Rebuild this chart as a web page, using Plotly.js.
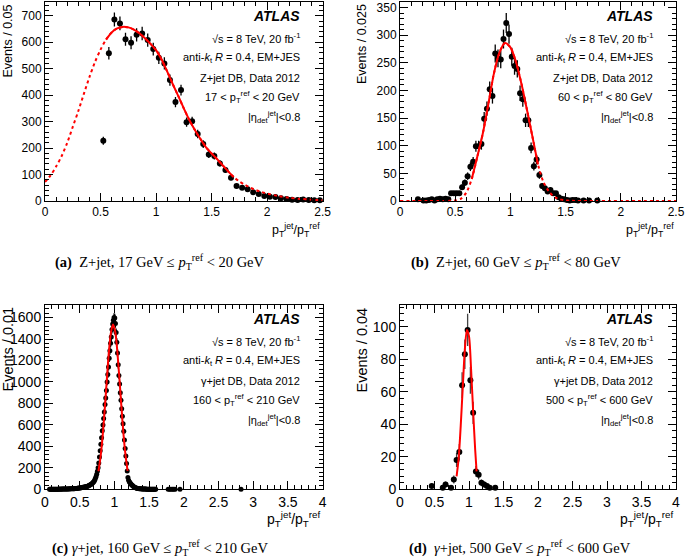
<!DOCTYPE html>
<html>
<head>
<meta charset="utf-8">
<script src="https://cdn.plot.ly/plotly-3.0.1.min.js"></script>
<style>
  body { margin: 0; background: white; }
  #chart { width: 685px; height: 559px; }
</style>
</head>
<body>
<div id="chart"></div>
<script>
// (a) Z+jet, 17-20 GeV, bins of 0.05 starting at 0.525
var aStart = 0.525, aStep = 0.05;
var aEvents = [228, 558, 686, 671, 611, 598, 628, 633, 608, 574, 541, 520, 457, 374, 419,
  298, 301, 253, 215, 176, 170, 142, 117, 88, 57, 50, 44, 33, 26, 19, 16, 15, 10, 8, 5, 4, 6, 4, 3, 3];
var aFitX = [0, 0.05, 0.1, 0.15, 0.2, 0.25, 0.3, 0.35, 0.4, 0.45, 0.5, 0.55, 0.6, 0.65, 0.7, 0.75,
  0.8, 0.85, 0.9, 0.95, 1.0, 1.05, 1.1, 1.15, 1.2, 1.25, 1.3, 1.35, 1.4, 1.45, 1.5, 1.55, 1.6,
  1.65, 1.7, 1.75, 1.8, 1.85, 1.9, 1.95, 2.0, 2.1, 2.2, 2.3, 2.4, 2.5];
var aFitY = [72, 97, 130, 170, 220, 280, 340, 405, 468, 525, 572, 610, 637, 652, 658, 656,
  648, 634, 615, 594, 570, 535, 490, 442, 397, 350, 306, 268, 234, 203, 180, 158, 135,
  112, 90, 74, 61, 50, 41, 34, 28, 19, 12, 8, 5, 3];
var aFitRange = [0.55, 1.7];

// (b) Z+jet, 60-80 GeV, bins of 0.025 starting at 0.1625
var bStart = 0.1625, bStep = 0.025;
var bEvents = [3, null, 1, 1, 2, 3, 1, 3, 4, 3, 4, 3, 14, 14, 14, 14, 25, 33, 45, 62, 71, 99, 99, 103,
  149, 167, 202, 190, 267, 258, 256, 293, 322, 302, 261, 244, 239, 195, 184, 146, 146, 96, 63, 75,
  47, 27, 23, 17, 20, 14, 14, 7, 4, 3, 2, 1, 2, 2, 1, null, 1, null, 1, null, null, 1];
var bFitX = [0, 0.4, 0.45, 0.5, 0.55, 0.6, 0.65, 0.7, 0.75, 0.8, 0.85, 0.9, 0.95, 1.0, 1.05, 1.1,
  1.15, 1.2, 1.25, 1.3, 1.35, 1.4, 1.45, 1.5, 1.55, 1.6, 2.5];
var bFitY = [0, 0, 0.3, 1, 4, 15, 40, 80, 122, 175, 230, 268, 286, 278, 252, 212,
  165, 116, 66, 34, 17, 7, 3, 1, 0.3, 0, 0];
var bFitRange = [0.65, 1.27];

// (c) gamma+jet, 160-210 GeV, bins of 0.01 starting at 0.065
var cStart = 0.065, cStep = 0.01;
var cEvents = [1, 1, 1, 1, 1, 1, 1, 1, 1, 1,
  1, 1, 1, 1, 2, 1, 2, 1, 2, 2,
  2, 2, 2, 3, 2, 3, 3, 3, 4, 3,
  4, 4, 5, 5, 5, 6, 6, 7, 8, 8,
  9, 10, 11, 12, 13, 14, 15, 17, 18, 20,
  21, 22, 24, 25, 27, 29, 32, 35, 39, 43,
  47, 52, 58, 65, 73, 85, 100, 118, 140, 168,
  200, 245, 300, 360, 420, 480, 545, 600, 660, 720,
  790, 850, 920, 1000, 1070, 1140, 1220, 1290, 1360, 1420,
  1490, 1540, 1575, 1600, 1595, 1545, 1460, 1370, 1270, 1160,
  1060, 980, 900, 830, 750, 680, 610, 540, 460, 380,
  310, 240, 170, 110, 85, 70, 60, 52, 45, 38,
  32, 26, 21, 17, 14, 12, 10, 8, 7, 6,
  5, 4, 4, 3, 3, 3, 2, 2, 2, 2,
  1, 1, 1, 1, 1, 1, 1, 1, 1, 1,
  1, 1, 1, 1];
var cTailX = [1.775, 1.795, 1.815, 1.835, 1.855, 1.875, 1.945, 2.825];
var cTailY = [1, 1, 1, 1, 1, 1, 1, 1];
var cFitX = [0.77, 0.80, 0.83, 0.86, 0.89, 0.92, 0.95, 0.98, 1.01, 1.04, 1.07, 1.10, 1.13, 1.16, 1.19];
var cFitY = [168, 300, 490, 740, 1015, 1275, 1460, 1535, 1475, 1300, 1050, 780, 520, 320, 172];

// (d) gamma+jet, 500-600 GeV, bins of 0.04
var dX = [0.46, 0.62, 0.66, 0.74, 0.78, 0.82, 0.86, 0.90, 0.94, 0.98, 1.02, 1.06, 1.10, 1.14, 1.18, 1.22, 1.26, 1.30, 1.38];
var dY = [2, 1, 3, 1, 6, 18, 23, 64, 83, 98, 67, 47, 11, 9, 4, 3, 2, 1, 1];
var dFitX = [0.82, 0.85, 0.88, 0.91, 0.94, 0.97, 1.0, 1.03, 1.06, 1.09, 1.11];
var dFitY = [8, 19, 39, 63, 86, 98, 94, 74, 48, 24, 11];

var W = 685, H = 559;
function fx(p) { return p / W; }
function fy(p) { return 1 - p / H; }

var sans = 'Liberation Sans, Arial, Helvetica, sans-serif';
var serif = 'Liberation Serif, Times New Roman, serif';

function inRange(xs, ys, r) {
  var ox = [], oy = [];
  for (var i = 0; i < xs.length; i++) {
    if (xs[i] >= r[0] && xs[i] <= r[1]) { ox.push(xs[i]); oy.push(ys[i]); }
  }
  return {x: ox, y: oy};
}

function points(extra, xa, ya, size, barColor) {
  var t = {
    type: 'scatter', mode: 'markers', xaxis: xa, yaxis: ya, cliponaxis: false,
    marker: {color: 'black', size: size},
    error_y: {type: 'sqrt', visible: true, width: 0, thickness: 1.3, color: barColor || 'black'},
    hoverinfo: 'skip'
  };
  for (var k in extra) t[k] = extra[k];
  return t;
}

function fitLine(xs, ys, xa, ya, dash) {
  return {
    type: 'scatter', mode: 'lines', x: xs, y: ys, xaxis: xa, yaxis: ya,
    line: {color: '#ff0000', width: 2, dash: dash, shape: 'spline', smoothing: 0.8},
    hoverinfo: 'skip'
  };
}

var aSolid = inRange(aFitX, aFitY, aFitRange);
var bSolid = inRange(bFitX, bFitY, bFitRange);

var data = [
  points({x0: aStart, dx: aStep, y: aEvents}, 'x', 'y', 6),
  fitLine(aFitX, aFitY, 'x', 'y', 'dot'),
  fitLine(aSolid.x, aSolid.y, 'x', 'y', 'solid'),

  points({x0: bStart, dx: bStep, y: bEvents}, 'x2', 'y2', 6),
  fitLine(bFitX, bFitY, 'x2', 'y2', 'dot'),
  fitLine(bSolid.x, bSolid.y, 'x2', 'y2', 'solid'),

  points({x0: cStart, dx: cStep, y: cEvents}, 'x3', 'y3', 5),
  points({x: cTailX, y: cTailY}, 'x3', 'y3', 5),
  fitLine(cFitX, cFitY, 'x3', 'y3', 'solid'),

  points({x: dX, y: dY}, 'x4', 'y4', 6, '#444'),
  fitLine(dFitX, dFitY, 'x4', 'y4', 'solid')
];

function axis(dom, range, dtick, minorDtick, anchor, fontSize) {
  return {
    domain: dom, range: range, anchor: anchor,
    showline: true, linecolor: 'black', linewidth: 1, mirror: 'allticks',
    ticks: 'inside', ticklen: 8, tickcolor: 'black', tickwidth: 1,
    dtick: dtick, tick0: 0,
    minor: {dtick: minorDtick, ticks: 'inside', ticklen: 4, tickcolor: 'black', tickwidth: 1},
    showgrid: false, zeroline: false,
    tickfont: {family: sans, size: fontSize, color: 'black'}
  };
}

var leftX = [fx(45), fx(322.6)];
var rightX = [fx(400), fx(676)];
var topY = [fy(201), fy(2)];
var botY = [fy(489.3), fy(304.7)];

var layout = {
  width: W, height: H,
  margin: {l: 0, r: 0, t: 0, b: 0},
  paper_bgcolor: 'white', plot_bgcolor: 'white',
  showlegend: false,
  xaxis: axis(leftX, [0, 2.5], 0.5, 0.1, 'y', 12),
  yaxis: axis(topY, [0, 752], 100, 20, 'x', 12),
  xaxis2: axis(rightX, [0, 2.5], 0.5, 0.1, 'y2', 12),
  yaxis2: axis(topY, [0, 360], 50, 10, 'x2', 12),
  xaxis3: axis(leftX, [0, 4], 0.5, 0.1, 'y3', 14),
  yaxis3: axis(botY, [0, 1720], 200, 40, 'x3', 14),
  xaxis4: axis(rightX, [0, 4], 0.5, 0.1, 'y4', 14),
  yaxis4: axis(botY, [0, 113.5], 20, 4, 'x4', 14),
  annotations: []
};

function note(text, x, y, opts) {
  var a = {
    text: text, xref: 'paper', yref: 'paper', x: fx(x), y: fy(y),
    xanchor: 'right', yanchor: 'middle', showarrow: false,
    font: {family: sans, size: 11, color: 'black'}
  };
  for (var k in opts) a[k] = opts[k];
  layout.annotations.push(a);
}

var panels = [
  {right: 302, top: 0, sel: 'Z+jet DB, Data 2012', bin: '17 &lt; p<sub>T</sub><sup>ref</sup> &lt; 20 GeV'},
  {right: 655, top: 0, sel: 'Z+jet DB, Data 2012', bin: '60 &lt; p<sub>T</sub><sup>ref</sup> &lt; 80 GeV'},
  {right: 302, top: 303, sel: 'γ+jet DB, Data 2012', bin: '160 &lt; p<sub>T</sub><sup>ref</sup> &lt; 210 GeV'},
  {right: 655, top: 303, sel: 'γ+jet DB, Data 2012', bin: '500 &lt; p<sub>T</sub><sup>ref</sup> &lt; 600 GeV'}
];
panels.forEach(function (p) {
  note('<b><i>ATLAS</i></b>', p.right, p.top + 15.5, {font: {family: sans, size: 14, color: 'black'}});
  var lines = ['√s = 8 TeV, 20 fb<sup>-1</sup>',
    'anti-<i>k</i><sub>t</sub> <i>R</i> = 0.4, EM+JES',
    p.sel, p.bin,
    '|η<sub>det</sub><sup>jet</sup>|&lt;0.8'];
  var ys = [38, 58, 78, 97, 117];
  lines.forEach(function (t, i) { note(t, p.right, p.top + ys[i]); });
});

// axis titles
var xTitle = 'p<sub>T</sub><sup>jet</sup>/p<sub>T</sub><sup>ref</sup>';
note(xTitle, 322, 230, {font: {family: sans, size: 12.5, color: 'black'}});
note(xTitle, 676, 230, {font: {family: sans, size: 12.5, color: 'black'}});
note(xTitle, 323, 519, {font: {family: sans, size: 14, color: 'black'}});
note(xTitle, 676, 519, {font: {family: sans, size: 14, color: 'black'}});

function yTitle(text, x, yTop, size) {
  note(text, x, yTop, {textangle: -90, xanchor: 'center', yanchor: 'top',
    font: {family: sans, size: size, color: 'black'}});
}
yTitle('Events / 0.05', 7, 3, 12.5);
yTitle('Events / 0.025', 362, 2, 12.5);
yTitle('Events / 0.01', 7, 305, 14.5);
yTitle('Events / 0.04', 361, 305, 14.5);

// captions
function caption(text, x, y) {
  note(text, x, y, {xanchor: 'center', font: {family: serif, size: 14.5, color: 'black'}});
}
caption('<b>(a)</b>  Z+jet, 17 GeV ≤ <i>p</i><sub>T</sub><sup>ref</sup> &lt; 20 GeV', 160, 262);
caption('<b>(b)</b>  Z+jet, 60 GeV ≤ <i>p</i><sub>T</sub><sup>ref</sup> &lt; 80 GeV', 516, 262);
caption('<b>(c)</b> <i>γ</i>+jet, 160 GeV ≤ <i>p</i><sub>T</sub><sup>ref</sup> &lt; 210 GeV', 160, 548);
caption('<b>(d)</b>  <i>γ</i>+jet, 500 GeV ≤ <i>p</i><sub>T</sub><sup>ref</sup> &lt; 600 GeV', 520, 548);

Plotly.newPlot('chart', data, layout, {staticPlot: true});
</script>
</body>
</html>
